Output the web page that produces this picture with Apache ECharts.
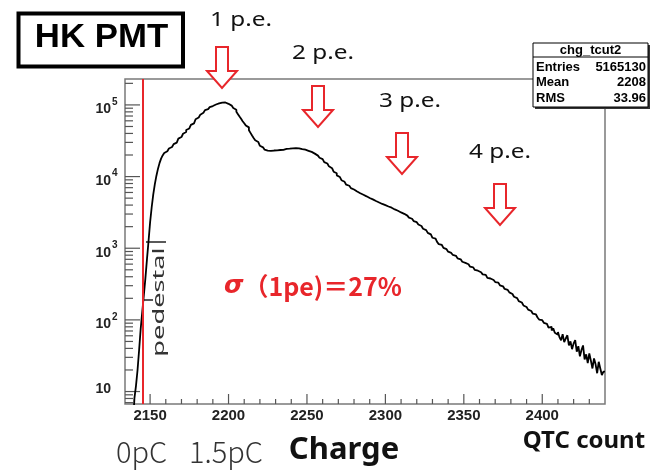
<!DOCTYPE html>
<html>
<head>
<meta charset="utf-8">
<script src="https://cdn.jsdelivr.net/npm/echarts@6/dist/echarts.min.js"></script>
<style>
  html, body { margin: 0; padding: 0; background: #fff; }
  #chart { width: 653px; height: 471px; }
</style>
</head>
<body>
<div id="chart"></div>
<script>
// histogram: QTC count bins (left edge = binStart + i * binWidth)
const binStart = 2139
const binWidth = 1
const counts = [
  3, 8, 12, 20, 38, 75, 130, 220, 380, 700,
  1250, 2300, 3700, 5600, 7800, 10200, 12800, 15400, 17800, 19700,
  21300, 22600, 23500, 24600, 25900, 27100, 28400, 29800, 31600, 33800,
  35600, 37400, 39600, 41800, 44600, 46900, 49800, 52600, 55300, 58900,
  63100, 66800, 70400, 73100, 77600, 80900, 84700, 87300, 90800, 93100,
  96400, 98200, 101300, 102800, 104900, 105600, 107800, 106900, 108100, 105200,
  103600, 100900, 97800, 94100, 90600, 85800, 80200, 74300, 68700, 63900,
  59100, 55400, 51800, 48600, 44300, 40700, 37400, 34600, 32100, 30300,
  28500, 26900, 25600, 24500, 23700, 23000, 22600, 22800, 22500, 23100,
  22900, 23200, 23000, 23500, 23700, 23600, 24100, 24300, 24000, 24500,
  24300, 24800, 24600, 25000, 24700, 24800, 24400, 24200, 23900, 23700,
  23300, 22900, 22600, 22100, 21500, 20900, 20200, 19600, 18900, 18300,
  17500, 16800, 15900, 15200, 14500, 13900, 13100, 12400, 11700, 11100,
  10400, 9850, 9300, 8900, 8450, 8100, 7700, 7450, 7100, 6900,
  6600, 6450, 6200, 6000, 5850, 5760, 5580, 5420, 5300, 5190,
  5020, 4890, 4800, 4690, 4560, 4470, 4350, 4280, 4150, 4060,
  3990, 3940, 3820, 3750, 3680, 3600, 3480, 3380, 3330, 3240,
  3160, 3080, 3020, 2960, 2850, 2760, 2670, 2580, 2500, 2390,
  2310, 2220, 2140, 2040, 1960, 1870, 1790, 1690, 1640, 1560,
  1470, 1400, 1360, 1300, 1220, 1140, 1110, 1060, 1010, 970,
  935, 895, 860, 825, 805, 785, 748, 722, 700, 680,
  648, 625, 612, 598, 572, 552, 541, 528, 498, 486,
  478, 462, 444, 432, 425, 408, 386, 378, 370, 360,
  346, 337, 331, 318, 304, 294, 283, 270, 262, 250,
  242, 230, 222, 210, 201, 192, 183, 175, 166, 159,
  151, 146, 139, 133, 127, 122, 119, 112, 108, 101,
  99, 95, 91, 88, 86, 78, 80, 71, 76, 66,
  62, 68, 57, 52, 63, 49, 55, 61, 44, 50,
  39, 47, 52, 36, 43, 31, 38, 44, 28, 33,
  25, 34, 27, 21, 29, 24, 18, 26, 21, 17,
  19
]

const xRange = [2134, 2440]
const yRange = [6.7, 2.3e5]
const xMajorTicks = [2150, 2200, 2250, 2300, 2350, 2400]
const xMinorTicks = [2140, 2160, 2170, 2180, 2190, 2210, 2220, 2230, 2240, 2260, 2270, 2280,
  2290, 2310, 2320, 2330, 2340, 2360, 2370, 2380, 2390, 2410, 2420, 2430]
const yMajorTicks = [10, 100, 1000, 10000, 100000]
const yLabelExp = ['', '2', '3', '4', '5']
const yMinorTicks = [7, 8, 9, 20, 30, 40, 50, 60, 70, 80, 90, 200, 300, 400, 500, 600, 700, 800, 900,
  2000, 3000, 4000, 5000, 6000, 7000, 8000, 9000, 20000, 30000, 40000, 50000, 60000, 70000,
  80000, 90000, 200000]

const pedestalX = 2145
const peLabels = ['1 p.e.', '2 p.e.', '3 p.e.', '4 p.e.']
const statTitle = 'chg_tcut2'
const statNames = ['Entries', 'Mean', 'RMS']
const statValues = ['5165130', '2208', '33.96']

const RED = '#e8262b'
const LABEL_FONT = 'bold 15px "Liberation Sans"'

const histData = counts.map((c, i) => [binStart + i * binWidth, c])
histData.push([binStart + counts.length * binWidth, counts[counts.length - 1]])

function renderXTick(params, api) {
  const v = api.value(0)
  const major = api.value(2) === 1
  const p = api.coord([v, yRange[0]])
  const len = major ? 10 : 5
  const children = [{
    type: 'line',
    shape: { x1: p[0], y1: p[1], x2: p[0], y2: p[1] - len },
    style: { stroke: '#555', lineWidth: 1.2 }
  }]
  if (major) {
    children.push({
      type: 'text', x: p[0], y: p[1] + 12,
      style: { text: String(v), font: LABEL_FONT, fill: '#222', align: 'center', verticalAlign: 'middle' }
    })
  }
  return { type: 'group', children }
}

function renderYTick(params, api) {
  const v = api.value(1)
  const major = api.value(2) === 1
  const p = api.coord([xRange[0], v])
  const len = major ? 15 : 8
  const children = [{
    type: 'line',
    shape: { x1: p[0], y1: p[1], x2: p[0] + len, y2: p[1] },
    style: { stroke: '#555', lineWidth: 1.2 }
  }]
  if (major) {
    const exp = yLabelExp[yMajorTicks.indexOf(v)]
    children.push({
      type: 'text', x: 111, y: p[1] + (exp ? 4.5 : -2),
      style: { text: '10', font: 'bold 14px "Liberation Sans"', fill: '#222', align: 'right', verticalAlign: 'middle' }
    })
    if (exp) {
      children.push({
        type: 'text', x: 112, y: p[1] - 3,
        style: { text: exp, font: 'bold 10px "Liberation Sans"', fill: '#222', align: 'left', verticalAlign: 'middle' }
      })
    }
  }
  return { type: 'group', children }
}

// hollow red arrow, (cx, top) in pixels
function arrow(cx, top) {
  return {
    type: 'polygon',
    shape: {
      points: [[cx - 6, top], [cx + 6, top], [cx + 6, top + 24], [cx + 15, top + 24],
        [cx, top + 41], [cx - 15, top + 24], [cx - 6, top + 24]]
    },
    style: { fill: '#fff', stroke: RED, lineWidth: 2 }
  }
}

function peText(text, cx, cy) {
  return {
    type: 'text', x: cx, y: cy, scaleX: 1.28,
    style: { text, font: '19px "Noto Sans"', fill: '#111', align: 'center', verticalAlign: 'middle' }
  }
}

const arrowPos = [[222, 47], [318, 86], [402, 133], [500, 184]]
const pePos = [[241, 21], [323, 54], [410, 102], [500, 153]]

const graphics = []
// HK PMT box
graphics.push({
  type: 'rect', shape: { x: 18.5, y: 13.5, width: 164.5, height: 53 },
  style: { fill: '#fff', stroke: '#000', lineWidth: 4 }
})
graphics.push({
  type: 'text', x: 101.5, y: 38, scaleX: 1.07,
  style: { text: 'HK PMT', font: 'bold 32.5px "Liberation Sans"', fill: '#000', align: 'center', verticalAlign: 'middle' }
})
arrowPos.forEach(a => graphics.push(arrow(a[0], a[1])))
peLabels.forEach((t, i) => graphics.push(peText(t, pePos[i][0], pePos[i][1])))

// sigma annotation
graphics.push({
  type: 'text', x: 224, y: 286,
  style: {
    text: '{a|σ}{b|（1pe)＝27%}',
    align: 'left', verticalAlign: 'middle',
    rich: {
      a: { font: 'italic bold 25px "DejaVu Sans"', fill: RED },
      b: { font: 'bold 25px "Noto Sans CJK JP"', fill: RED }
    }
  }
})

// pedestal label and its marks
graphics.push({
  type: 'text', x: 159, y: 302, rotation: Math.PI / 2, scaleX: 1.6,
  style: { text: 'pedestal', font: '17px "Noto Sans"', fill: '#333', align: 'center', verticalAlign: 'middle' }
})
graphics.push({ type: 'line', shape: { x1: 146, y1: 242, x2: 166, y2: 242 }, style: { stroke: '#222', lineWidth: 1.5 } })
graphics.push({ type: 'line', shape: { x1: 142, y1: 300, x2: 153, y2: 300 }, style: { stroke: '#222', lineWidth: 1.5 } })

// stats box
const statChildren = [
  { type: 'rect', shape: { x: 535, y: 45, width: 115, height: 64 }, style: { fill: '#333' } },
  { type: 'rect', shape: { x: 533, y: 43, width: 115, height: 64 }, style: { fill: '#fff', stroke: '#000', lineWidth: 1 } },
  { type: 'line', shape: { x1: 533, y1: 57, x2: 648, y2: 57 }, style: { stroke: '#000', lineWidth: 1 } },
  {
    type: 'text', x: 590.5, y: 50,
    style: { text: statTitle, font: 'bold 13px "Liberation Sans"', fill: '#000', align: 'center', verticalAlign: 'middle' }
  }
]
const statRowY = [67.5, 82, 98]
statNames.forEach((n, i) => {
  statChildren.push({
    type: 'text', x: 536, y: statRowY[i],
    style: { text: n, font: 'bold 13px "Liberation Sans"', fill: '#000', align: 'left', verticalAlign: 'middle' }
  })
  statChildren.push({
    type: 'text', x: 646, y: statRowY[i],
    style: { text: statValues[i], font: 'bold 13px "Liberation Sans"', fill: '#000', align: 'right', verticalAlign: 'middle' }
  })
})
graphics.push({ type: 'group', z: 100, children: statChildren })

// bottom captions
graphics.push({
  type: 'text', x: 141.5, y: 452,
  style: { text: '0pC', font: '300 29px "Noto Sans CJK JP"', fill: '#333', align: 'center', verticalAlign: 'middle' }
})
graphics.push({
  type: 'text', x: 226, y: 452,
  style: { text: '1.5pC', font: '300 29px "Noto Sans CJK JP"', fill: '#333', align: 'center', verticalAlign: 'middle' }
})
graphics.push({
  type: 'text', x: 344, y: 450,
  style: { text: 'Charge', font: 'bold 31px "Noto Sans"', fill: '#111', align: 'center', verticalAlign: 'middle' }
})
graphics.push({
  type: 'text', x: 584, y: 441,
  style: { text: 'QTC count', font: 'bold 24px "Noto Sans"', fill: '#111', align: 'center', verticalAlign: 'middle' }
})

const chart = echarts.init(document.getElementById('chart'), null, { renderer: 'canvas' })
chart.setOption({
  animation: false,
  backgroundColor: '#fff',
  grid: {
    left: 125, top: 79, right: 48, bottom: 67,
    show: true, borderColor: '#7a7a7a', borderWidth: 1.5, backgroundColor: 'transparent'
  },
  xAxis: {
    type: 'value', min: xRange[0], max: xRange[1],
    axisLine: { show: false }, axisTick: { show: false }, axisLabel: { show: false }, splitLine: { show: false }
  },
  yAxis: {
    type: 'log', logBase: 10, min: yRange[0], max: yRange[1],
    axisLine: { show: false }, axisTick: { show: false }, axisLabel: { show: false }, splitLine: { show: false }
  },
  series: [
    {
      type: 'line',
      data: histData,
      step: 'end',
      symbol: 'none',
      clip: true,
      lineStyle: { color: '#000', width: 1.8 },
      markLine: {
        silent: true,
        symbol: ['none', 'none'],
        label: { show: false },
        lineStyle: { color: RED, width: 2, type: 'solid' },
        data: [{ xAxis: pedestalX }]
      },
      z: 3
    },
    {
      type: 'custom',
      renderItem: renderXTick,
      encode: { x: 0, y: 1 },
      data: xMajorTicks.map(v => [v, yRange[0], 1]).concat(xMinorTicks.map(v => [v, yRange[0], 0])),
      silent: true
    },
    {
      type: 'custom',
      renderItem: renderYTick,
      encode: { x: 0, y: 1 },
      data: yMajorTicks.map(v => [xRange[0], v, 1]).concat(yMinorTicks.map(v => [xRange[0], v, 0])),
      silent: true
    }
  ],
  graphic: graphics
})
</script>
</body>
</html>
